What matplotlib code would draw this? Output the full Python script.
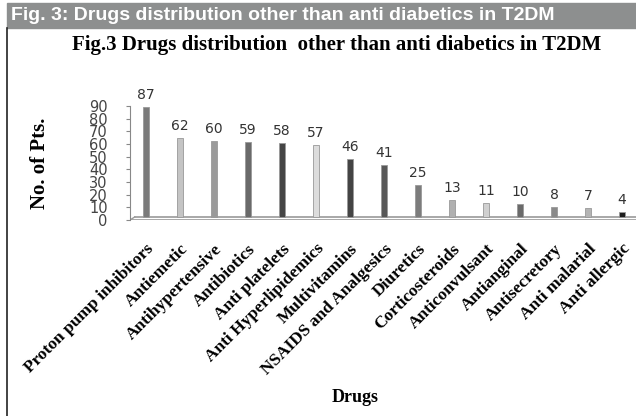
import matplotlib
matplotlib.use('Agg')
import matplotlib.pyplot as plt
from matplotlib.patches import Rectangle
from matplotlib.lines import Line2D

drugs = ['Proton pump inhibitors', 'Antiemetic', 'Antihypertensive', 'Antibiotics',
         'Anti platelets', 'Anti Hyperlipidemics', 'Multivitamins', 'NSAIDS and Analgesics',
         'Diuretics', 'Corticosteroids', 'Anticonvulsant', 'Antianginal',
         'Antisecretory', 'Anti malarial', 'Anti allergic']
patients = [87, 62, 60, 59, 58, 57, 46, 41, 25, 13, 11, 10, 8, 7, 4]
bar_colors = ['#7a7a7a', '#c4c4c4', '#9a9a9a', '#6a6a6a', '#454545', '#dcdcdc', '#444444',
              '#585858', '#7c7c7c', '#b0b0b0', '#d0d0d0', '#6a6a6a', '#8a8a8a', '#b4b4b4', '#1e1e1e']
y_ticks = list(range(0, 100, 10))

serif = 'Liberation Serif'
floor = 2.4  # depth of the pseudo-3D floor

fig = plt.figure(figsize=(6.36, 4.16), dpi=100)
W, H = 636, 416

# grey caption band and left frame line
fig.patches.append(Rectangle((7 / W, 1 - 28 / H), 1, 25 / H, transform=fig.transFigure,
                             color='#8d8f8f', zorder=0))
fig.text(11 / W, 1 - 16 / H, 'Fig. 3: Drugs distribution other than anti diabetics in T2DM',
         color='white', fontsize=14, fontweight='bold', va='center', ha='left',
         family=['Liberation Sans Narrow', 'Liberation Sans'])
fig.lines.append(Line2D([7 / W, 7 / W], [0, 1 - 28 / H], transform=fig.transFigure,
                        color='#222222', lw=1.2))

fig.text(337 / W, 1 - 45 / H, 'Fig.3 Drugs distribution  other than anti diabetics in T2DM',
         ha='center', va='center', fontsize=15, fontweight='bold', family=serif)

ax = fig.add_axes([130 / W, 1 - 220 / H, (W - 130) / W, 126.7 / H])
x = list(range(len(drugs)))
ax.bar(x, patients, bottom=floor, width=0.2, color=bar_colors,
       edgecolor='#999999', linewidth=0.6, zorder=3)
for xi, v in zip(x, patients):
    ax.text(xi, v + floor + 4, str(v), ha='center', va='bottom', fontsize=10,
            color='#333333', family='DejaVu Sans')

# floor of the chart
ax.plot([-0.47, 14.5], [0, 0], color='#999999', lw=1.2, zorder=2)
ax.plot([-0.33, 14.5], [floor, floor], color='#999999', lw=1.2, zorder=2)
ax.plot([-0.47, -0.33], [0, floor], color='#999999', lw=1.0, zorder=2)

ax.set_xlim(-0.47, 14.41)
ax.set_ylim(0, 100)
for s in ['top', 'right', 'bottom']:
    ax.spines[s].set_visible(False)
ax.spines['left'].set_bounds(0, 90)
ax.spines['left'].set_color('#888888')
ax.set_yticks(y_ticks)
ax.tick_params(axis='y', length=3, color='#888888', labelcolor='#444444',
               labelsize=10.5, pad=13)
ax.set_xticks(x)
ax.set_xticklabels(drugs, rotation=45, ha='right', va='top', rotation_mode='anchor',
                   fontsize=12.5, fontweight='bold', family=serif)
ax.tick_params(axis='x', length=0, pad=15)

fig.text(40 / W, 1 - 163 / H, 'No. of Pts.', rotation=90, ha='center', va='center',
         fontsize=15, fontweight='bold', family=serif)
fig.text(355 / W, 1 - 397 / H, 'Drugs', ha='center', va='center',
         fontsize=13, fontweight='bold', family=serif)

fig.savefig('out.png', dpi=100)
